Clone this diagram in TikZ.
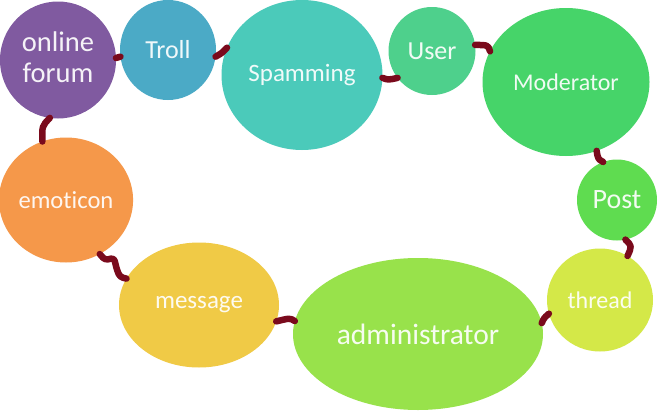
\documentclass[tikz,border=0pt]{standalone}
\usepackage{fontspec}
\setmainfont{Carlito}[Ligatures={NoCommon}]
\usetikzlibrary{shapes.geometric}
\definecolor{cforum}{RGB}{128,90,160}
\definecolor{ctroll}{RGB}{75,170,198}
\definecolor{cspam}{RGB}{75,202,186}
\definecolor{cuser}{RGB}{78,208,140}
\definecolor{cmod}{RGB}{70,212,105}
\definecolor{cpost}{RGB}{95,220,80}
\definecolor{cthread}{RGB}{212,232,72}
\definecolor{cadmin}{RGB}{152,226,75}
\definecolor{cmsg}{RGB}{240,202,70}
\definecolor{cemo}{RGB}{245,152,74}
\definecolor{clink}{RGB}{122,10,28}
\tikzset{
  bubble/.style={ellipse, inner sep=0pt, outer sep=0pt, text=white, text opacity=0.92, align=center},
  link/.style={draw=clink, line width=6.5pt, line cap=round, line join=round}
}
\newcommand{\fs}[1]{\fontsize{#1}{31}\selectfont}
\begin{document}
\begin{tikzpicture}[x=1pt,y=-1pt]
\fill[white] (0,0) rectangle (664,415);
\useasboundingbox (0,0) rectangle (664,415);
\node[bubble, fill=cforum, minimum width=116pt, minimum height=117pt, font=\fs{28.5}, text depth=6pt] (forum) at (58,60) {online\\forum};
\node[bubble, fill=ctroll, minimum width=96pt, minimum height=100pt, font=\fs{26}] (troll) at (168,50) {Troll};
\node[bubble, fill=cspam, minimum width=161pt, minimum height=150pt, font=\fs{25}] (spam) at (302,75) {Spamming};
\node[bubble, fill=cuser, minimum width=87pt, minimum height=88pt, font=\fs{26}] (user) at (432,51) {User};
\node[bubble, fill=cmod, minimum width=167pt, minimum height=148pt, font=\fs{24}] (mod) at (566,82) {Moderator};
\node[bubble, fill=cpost, minimum width=80pt, minimum height=81pt, font=\fs{28}] (post) at (617,200) {Post};
\node[bubble, fill=cthread, minimum width=106pt, minimum height=103pt, font=\fs{24}] (thread) at (600,300) {thread};
\node[bubble, fill=cadmin, minimum width=250pt, minimum height=152pt, font=\fs{29.5}] (admin) at (418,334) {administrator};
\node[bubble, fill=cmsg, minimum width=160pt, minimum height=125pt, font=\fs{25}] (msg) at (199,305) {message};
\node[bubble, fill=cemo, minimum width=132pt, minimum height=125pt, font=\fs{24.6}] (emo) at (66,200) {emoticon};
% connectors
\draw[link] (forum.2) -- (troll.188);
\draw[link] (troll.-8) .. controls (222,53) .. (spam.160);
\draw[link] (spam.-2) .. controls (388,80) .. (user.218);
\draw[link] (user.8) .. controls (488,45) .. (mod.158);
\draw[link] (mod.-66) .. controls (598,159) .. (post.110);
\draw[link] (post.-78) .. controls (632,246) .. (thread.58);
\draw[link] (admin.5) .. controls (544,318) .. (thread.195);
\draw[link] (msg.-12) .. controls (290,318) .. (admin.174);
\draw[link, rounded corners=3pt] (emo.-58) -- (105,260) -- (114,258) -- (117,270) -- (120,277) -- (msg.160);
\draw[link] (forum.-98) .. controls (42,126) .. (emo.112);
\end{tikzpicture}
\end{document}
